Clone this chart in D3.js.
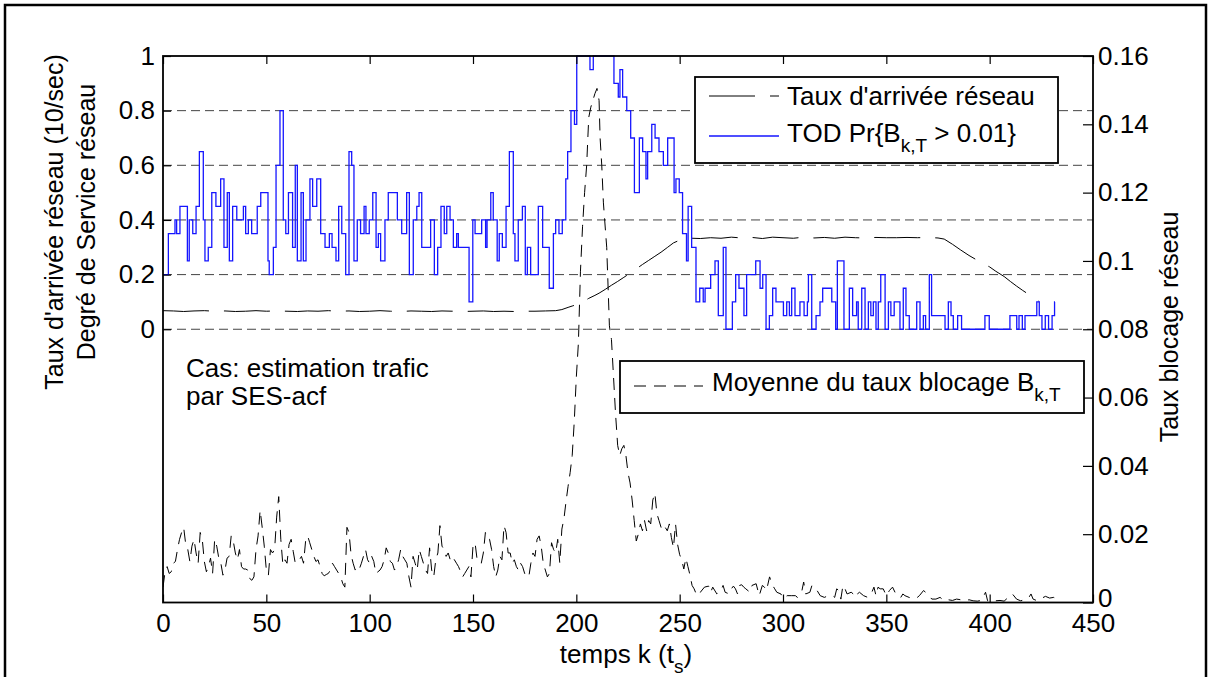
<!DOCTYPE html>
<html>
<head>
<meta charset="utf-8">
<title>Taux de blocage - SES-acf</title>
<script src="https://cdn.jsdelivr.net/npm/d3@7/dist/d3.min.js"></script>
<style>
body { margin: 0; background: #fff; }
text { font-family: "Liberation Sans", Arial, sans-serif; fill: #000; }
</style>
</head>
<body>
<svg width="1208" height="677"></svg>
<script>

// ---- data ----
var xTicks = [0, 50, 100, 150, 200, 250, 300, 350, 400, 450];
var leftTicks = [0, 0.2, 0.4, 0.6, 0.8, 1];
var rightTicks = [0, 0.02, 0.04, 0.06, 0.08, 0.1, 0.12, 0.14, 0.16];

// TOD Pr{B_k,T > 0.01}: stairs, [k where the step starts, value] (left axis)
var todSteps = [[0,0.2],[2.6,0.35],[5.8,0.4],[6.6,0.35],[8.2,0.45],[11.8,0.25],[12.7,0.4],[14.4,0.35],[16,0.45],[17.6,0.65],
  [19.5,0.4],[20.3,0.25],[21.9,0.3],[23.6,0.5],[25.6,0.45],[27.9,0.55],[29.5,0.3],[31.1,0.5],[32.1,0.25],[33.7,0.45],
  [35.7,0.4],[38.9,0.45],[40,0.35],[41.3,0.4],[42.9,0.35],[45.6,0.45],[47.3,0.5],[50.8,0.25],[51.4,0.2],[53.4,0.3],
  [54.7,0.6],[56.6,0.8],[58.2,0.4],[59.4,0.35],[60.7,0.5],[62.7,0.3],[64,0.6],[65,0.25],[66.8,0.5],[67.9,0.25],
  [69.2,0.4],[71.1,0.55],[72.4,0.45],[74.4,0.55],[76.3,0.35],[78.4,0.3],[80.5,0.35],[81.8,0.3],[83.7,0.25],[85,0.45],
  [86.5,0.35],[88.4,0.2],[90,0.65],[91.3,0.6],[92.4,0.25],[94,0.4],[95.6,0.35],[97.3,0.45],[98.2,0.35],[99.8,0.4],
  [101.5,0.5],[103.1,0.3],[104.2,0.35],[105.3,0.25],[107.4,0.4],[109,0.5],[113.4,0.4],[115.5,0.35],[117.9,0.5],[119.2,0.2],
  [121.1,0.4],[122.8,0.45],[123.9,0.5],[125.2,0.3],[129.5,0.4],[131.3,0.2],[132.9,0.3],[134.5,0.45],[136.1,0.35],[137.3,0.45],
  [138.9,0.4],[140.5,0.3],[142.1,0.35],[142.9,0.3],[148.1,0.1],[149.9,0.4],[151,0.35],[154.2,0.4],[156.1,0.3],[156.8,0.4],
  [158.6,0.5],[159.8,0.4],[161.7,0.25],[162.7,0.35],[164.2,0.3],[166,0.45],[167.6,0.65],[169.5,0.35],[170.3,0.25],[171.9,0.4],
  [173.9,0.45],[175.3,0.2],[176.3,0.3],[177.9,0.2],[181.6,0.45],[183.7,0.3],[186.9,0.15],[188.9,0.35],[190,0.4],[191.6,0.35],
  [193.2,0.4],[194.9,0.55],[195.8,0.65],[197.4,0.8],[199.1,0.75],[200.2,1],[206.6,0.95],[208.2,1],[218.2,0.9],[220.3,0.85],
  [221.1,0.95],[222.4,0.85],[224.4,0.8],[226.3,0.7],[228.1,0.5],[230.5,0.7],[232.1,0.65],[233.7,0.55],[234.5,0.65],[236.5,0.75],
  [238.1,0.7],[240,0.65],[242.1,0.6],[244.2,0.7],[247.3,0.5],[248.2,0.55],[249.8,0.5],[251.4,0.35],[253.3,0.25],[254.1,0.45],
  [255.8,0.3],[257.9,0.1],[259.7,0.15],[261.4,0.1],[262.3,0.15],[265,0.2],[267.1,0.25],[268.7,0.05],[271.1,0.3],[272.4,0],
  [275.5,0.1],[277.1,0.2],[278.7,0.15],[281.1,0.05],[282.4,0.2],[286.8,0.25],[288.9,0.15],[290.2,0.2],[291.8,0],[293.4,0.05],
  [295,0.15],[296.6,0.1],[300.2,0.05],[301.8,0.1],[303.1,0.05],[304.2,0.15],[305.8,0.05],[308.2,0.1],[310.2,0.05],[311.8,0.1],
  [312.3,0.2],[313.9,0],[316,0.05],[317.9,0.1],[319.2,0.15],[323.6,0.1],[325.5,0],[326.3,0.25],[329.5,0],[332.1,0.15],
  [333.7,0.05],[335.6,0.1],[336.4,0],[338.1,0.15],[339.7,0],[341.3,0.1],[342.5,0.05],[343.7,0.1],[345,0],[346.1,0.1],
  [347.3,0.2],[349.4,0],[351,0.1],[352.2,0.05],[353.8,0.1],[356.6,0],[358.2,0.15],[359.5,0.05],[361.1,0],[364.7,0.1],
  [366.3,0],[367.9,0.05],[369,0],[370.8,0.2],[371.9,0.05],[378.4,0],[380,0.1],[381.3,0.05],[382.4,0],[384.5,0.05],
  [386.4,0],[397.7,0.05],[399.8,0],[409.8,0.05],[413.1,0],[414.2,0.05],[415.8,0],[417.1,0.05],[422.8,0.1],[424,0.05],
  [425.3,0],[426.9,0.05],[428.5,0],[430.2,0.05],[431.4,0.1],[431.6,0.1]];

// Taux d'arrivee reseau (left axis)
var arrivee = [[0,0.068],[5,0.067],[10,0.065],[15,0.067],[20,0.068],[25,0.066],[30,0.067],[35,0.065],[40,0.066],[45,0.068],
  [50,0.066],[55,0.067],[60,0.066],[65,0.065],[70,0.067],[75,0.066],[80,0.068],[85,0.066],[90,0.067],[95,0.065],
  [100,0.066],[105,0.068],[110,0.066],[115,0.065],[120,0.067],[125,0.066],[130,0.065],[135,0.067],[140,0.066],[145,0.065],
  [150,0.066],[155,0.067],[160,0.065],[165,0.066],[170,0.065],[175,0.066],[180,0.066],[185,0.067],[190,0.068],[193,0.072],
  [196,0.08],[198,0.085],[200,0.09],[203,0.1],[206,0.113],[209,0.124],[211,0.132],[214,0.146],[217,0.161],[220,0.175],
  [223,0.19],[226,0.205],[229,0.221],[232,0.237],[235,0.252],[238,0.267],[241,0.282],[244,0.299],[247,0.316],[250,0.326],
  [253,0.332],[256,0.333],[260,0.332],[265,0.335],[270,0.333],[275,0.337],[280,0.334],[285,0.336],[290,0.332],[295,0.337],
  [300,0.335],[305,0.333],[310,0.337],[315,0.334],[320,0.336],[325,0.333],[330,0.337],[335,0.335],[340,0.334],[345,0.336],
  [350,0.335],[355,0.335],[360,0.336],[365,0.335],[370,0.336],[375,0.334],[378,0.33],[382,0.311],[386,0.29],[390,0.27],
  [395,0.248],[400,0.228],[403,0.212],[407,0.193],[410,0.175],[413,0.158],[416,0.142],[420,0.122],[424,0.101]];

// Moyenne du taux blocage B_k,T (right axis)
var blocage = [[0,0.0045],[1,0.009],[2,0.0105],[3,0.0085],[4,0.009],[5,0.0115],[6,0.012],[7,0.0155],[8,0.0185],[9,0.0205],
  [10,0.022],[11,0.017],[12,0.0155],[13,0.012],[14,0.0165],[15,0.0185],[16,0.0145],[17,0.0115],[18,0.0205],[19,0.0185],
  [20,0.012],[21,0.009],[22,0.0105],[23,0.013],[24,0.0085],[25,0.0185],[26,0.0165],[27,0.013],[28,0.0115],[29,0.008],
  [30,0.0095],[31,0.013],[32,0.0135],[33,0.0195],[34,0.018],[35,0.0145],[36,0.0125],[37,0.0155],[38,0.0105],[39,0.0098],
  [40,0.0098],[41,0.0095],[42,0.007],[43,0.0065],[44,0.0075],[45,0.0155],[46,0.0195],[47,0.027],[48,0.022],[49,0.0165],
  [50,0.0095],[51,0.008],[52,0.0155],[53,0.0145],[54,0.0155],[55,0.025],[56,0.031],[57,0.0185],[58,0.011],[59,0.0125],
  [60,0.0115],[61,0.017],[62,0.0185],[63,0.015],[64,0.0115],[65,0.012],[66,0.0125],[67,0.0135],[68,0.0115],[69,0.018],
  [70,0.0195],[71,0.0175],[72,0.0155],[73,0.0135],[74,0.012],[75,0.0125],[76,0.0105],[77,0.0085],[78,0.0078],[79,0.0082],
  [80,0.0085],[81,0.0095],[82,0.0115],[83,0.0105],[84,0.0095],[85,0.0085],[86,0.0075],[87,0.0055],[88,0.0045],[89,0.022],
  [90,0.0205],[91,0.014],[92,0.0115],[93,0.0095],[94,0.0105],[95,0.0098],[96,0.0115],[97,0.0135],[98,0.0155],[99,0.0125],
  [100,0.0115],[101,0.0135],[102,0.012],[103,0.0085],[104,0.009],[105,0.0095],[106,0.0105],[107,0.0125],[108,0.016],[109,0.0145],
  [110,0.012],[111,0.0115],[112,0.0095],[113,0.0105],[114,0.0125],[115,0.0155],[116,0.0135],[117,0.0125],[118,0.0115],[119,0.0075],
  [120,0.0045],[121,0.0135],[122,0.0115],[123,0.0095],[124,0.0155],[125,0.0135],[126,0.0115],[127,0.0095],[128,0.0085],[129,0.016],
  [130,0.0095],[131,0.0075],[132,0.0125],[133,0.0145],[134,0.0225],[135,0.0165],[136,0.0155],[137,0.0135],[138,0.0145],[139,0.0125],
  [140,0.0135],[141,0.0125],[142,0.0115],[143,0.0105],[144,0.009],[145,0.0075],[146,0.0085],[147,0.0095],[148,0.0105],[149,0.0075],
  [150,0.0165],[151,0.0175],[152,0.0125],[153,0.0115],[154,0.0115],[155,0.0145],[156,0.0205],[157,0.0185],[158,0.0185],[159,0.0155],
  [160,0.0105],[161,0.0075],[162,0.0095],[163,0.0135],[164,0.0125],[165,0.0225],[166,0.0205],[167,0.0145],[168,0.0145],[169,0.0115],
  [170,0.0125],[171,0.0105],[172,0.0095],[173,0.0115],[174,0.0105],[175,0.0085],[176,0.0075],[177,0.0075],[178,0.0115],[179,0.0145],
  [180,0.0135],[181,0.0185],[182,0.0195],[183,0.0165],[184,0.0115],[185,0.0095],[186,0.0075],[187,0.0085],[188,0.0175],[189,0.0155],
  [190,0.0145],[191,0.0185],[192,0.0115],[193,0.0215],[194,0.0245],[195,0.0295],[196,0.034],[197,0.038],[198,0.043],[199,0.053],
  [200,0.066],[201,0.076],[202,0.097],[203,0.11],[204,0.12],[205,0.128],[206,0.142],[207,0.145],[208,0.147],[209,0.149],
  [210,0.1505],[211,0.147],[211.5,0.136],[212.3,0.128],[213.1,0.117],[214.7,0.104],[215.5,0.09],[216,0.081],[217,0.077],[218,0.066],
  [219,0.055],[220,0.046],[221,0.043],[222,0.045],[223,0.046],[224,0.043],[225,0.038],[226,0.035],[227,0.03],[228,0.024],
  [229,0.018],[230,0.02],[231,0.023],[232,0.021],[233,0.024],[234,0.021],[235,0.024],[236,0.023],[237,0.03],[238,0.032],
  [239,0.026],[240,0.024],[241,0.022],[242,0.021],[243,0.022],[244,0.021],[245,0.023],[246,0.019],[247,0.016],[248,0.023],
  [249,0.017],[250,0.014],[251,0.0125],[252,0.0098],[253,0.013],[254,0.0105],[255,0.008],[256,0.005],[257,0.004],[258,0.0025],
  [259,0.0035],[260,0.003],[262,0.0045],[264,0.0048],[265,0.003],[266,0.0045],[268,0.0025],[270,0.0035],[271,0.005],[272,0.003],
  [274,0.0025],[275,0.004],[276,0.0048],[277,0.004],[278,0.0025],[279,0.005],[280,0.0052],[281,0.0045],[282,0.004],[284,0.003],
  [285,0.005],[287,0.0055],[288.5,0.002],[290,0.005],[291,0.0045],[292,0.0035],[293.5,0.0075],[295,0.005],[296,0.004],[297,0.003],
  [299,0.0025],[300,0.0012],[302,0.002],[304,0.002],[306,0.002],[307,0.0015],[309,0.003],[310,0.006],[311,0.0025],[313,0.003],
  [314,0.005],[316,0.004],[318,0.002],[320,0.0015],[322,0.002],[324,0.002],[325,0.0015],[326,0.004],[327,0.0035],[328,0.001],
  [329,0.005],[330,0.004],[331,0.0025],[333,0.003],[334,0.0025],[335,0.0035],[336,0.0025],[337,0.003],[339,0.002],[341,0.0015],
  [343,0.003],[344,0.0045],[345,0.002],[346,0.0045],[347,0.004],[348.5,0.004],[350,0.002],[351.5,0.0035],[353,0.0045],[355,0.002],
  [357,0.0015],[358,0.0025],[359,0.002],[361,0.0015],[363,0.001],[365,0.0015],[366,0.002],[368,0.0035],[370,0.0025],[372,0.001],
  [374,0.001],[376,0.0015],[378,0.0005],[380,0.0008],[382,0.0006],[384,0.001],[386,0.0008],[388,0.0005],[390,0.0008],[392,0.0005],
  [394,0.0004],[396,0.0006],[398,0.003],[399,0.0005],[401,0.0008],[403,0.0005],[405,0.0006],[407,0.0004],[409,0.0015],[411,0.0025],
  [413,0.001],[415,0.0005],[417,0.0008],[419,0.0015],[420,0.0025],[421,0.001],[423,0.0005],[425,0.0012],[427,0.0018],[429,0.0013],
  [431,0.0015],[432,0.0012]];

// ---- layout ----
var svg = d3.select("svg"),
    plot = {left: 163, right: 1093, top: 56, bottom: 602.5},
    fs = 26, fsSub = 19;

var x = d3.scaleLinear().domain([0, 450]).range([plot.left, plot.right]),
    yL = d3.scaleLinear().domain([-1, 1]).range([plot.bottom, plot.top]),
    yR = d3.scaleLinear().domain([0, 0.16]).range([plot.bottom, plot.top]);

// figure frame
svg.append("rect")
   .attr("x", 5).attr("y", 5).attr("width", 1201).attr("height", 676)
   .attr("fill", "none").attr("stroke", "#000").attr("stroke-width", 2.5);

svg.append("clipPath").attr("id", "clip")
   .append("rect")
   .attr("x", plot.left).attr("y", plot.top - 1)
   .attr("width", plot.right - plot.left).attr("height", plot.bottom - plot.top + 1);

// grid on the left axis
svg.append("g").selectAll("line")
   .data(leftTicks.filter(function(d){ return d < 1; }))
   .enter().append("line")
   .attr("x1", plot.left).attr("x2", plot.right)
   .attr("y1", function(d){ return yL(d); }).attr("y2", function(d){ return yL(d); })
   .attr("stroke", "#444").attr("stroke-width", 1).attr("stroke-dasharray", "9,5");

var lines = svg.append("g").attr("clip-path", "url(#clip)");

// mean blocking rate, right axis, dashed
lines.append("path")
   .datum(blocage)
   .attr("fill", "none").attr("stroke", "#000").attr("stroke-width", 1)
   .attr("stroke-dasharray", "12,8")
   .attr("d", d3.line().x(function(d){ return x(d[0]); }).y(function(d){ return yR(d[1]); }));

// arrival rate, left axis
lines.append("path")
   .datum(arrivee)
   .attr("fill", "none").attr("stroke", "#000").attr("stroke-width", 1)
   .attr("stroke-dasharray", "46,15")
   .attr("d", d3.line().x(function(d){ return x(d[0]); }).y(function(d){ return yL(d[1]); }));

// TOD, stairs
lines.append("path")
   .datum(todSteps)
   .attr("fill", "none").attr("stroke", "#1515ff").attr("stroke-width", 1.3)
   .attr("d", d3.line().curve(d3.curveStepAfter)
      .x(function(d){ return x(d[0]); }).y(function(d){ return yL(d[1]); }));

// ---- axes ----
function styleAxis(g) {
  g.select(".domain").remove();
  g.attr("font-size", fs).attr("font-family", null);
  g.selectAll(".tick line").attr("stroke", "#000").attr("stroke-width", 1.2);
}

svg.append("g")
   .attr("transform", "translate(0," + plot.bottom + ")")
   .call(d3.axisBottom(x).tickValues(xTicks).tickSize(-8).tickPadding(11).tickFormat(d3.format("d")))
   .call(styleAxis);

svg.append("g")
   .attr("transform", "translate(0," + plot.top + ")")
   .call(d3.axisTop(x).tickValues(xTicks).tickSize(-8).tickFormat(""))
   .call(styleAxis);

svg.append("g")
   .attr("transform", "translate(" + plot.left + ",0)")
   .call(d3.axisLeft(yL).tickValues(leftTicks).tickSize(-8).tickPadding(8).tickFormat(function(d){ return String(d); }))
   .call(styleAxis);

var rAxis = svg.append("g")
   .attr("transform", "translate(" + plot.right + ",0)")
   .call(d3.axisRight(yR).tickValues(rightTicks).tickSize(-10).tickPadding(5).tickFormat(function(d){ return String(d); }))
   .call(styleAxis);
// the lowest right label sits just above the 450 label, as in the figure
rAxis.selectAll(".tick text").filter(function(d){ return d === 0; }).attr("y", -4);

svg.append("rect")
   .attr("x", plot.left).attr("y", plot.top)
   .attr("width", plot.right - plot.left).attr("height", plot.bottom - plot.top)
   .attr("fill", "none").attr("stroke", "#000").attr("stroke-width", 1.8);

// text with a subscript part: parts = [[string, isSub], ...]
function richText(parent, px, py, parts, anchor, transform, size) {
  var base = size || fs;
  var t = parent.append("text")
     .attr("x", px).attr("y", py)
     .attr("font-size", base)
     .attr("text-anchor", anchor || "start")
     .style("white-space", "pre");
  if (transform) t.attr("transform", transform);
  var shift = 0;
  parts.forEach(function(p) {
    var dy = (p[1] ? 10 : 0) - shift;
    shift = p[1] ? 10 : 0;
    t.append("tspan").attr("dy", dy).attr("font-size", p[1] ? fsSub : base).text(p[0]);
  });
  return t;
}

// ---- legends ----
var leg1 = svg.append("g");
leg1.append("rect").attr("x", 695).attr("y", 77).attr("width", 363).attr("height", 86)
    .attr("fill", "#fff").attr("stroke", "#000").attr("stroke-width", 1.8);
leg1.append("line").attr("x1", 709).attr("x2", 779).attr("y1", 96).attr("y2", 96)
    .attr("stroke", "#000").attr("stroke-width", 1).attr("stroke-dasharray", "46,15");
leg1.append("line").attr("x1", 709).attr("x2", 779).attr("y1", 136).attr("y2", 136)
    .attr("stroke", "#1515ff").attr("stroke-width", 1.3);
richText(leg1, 787, 105, [["Taux d'arrivée réseau", 0]]);
richText(leg1, 787, 142, [["TOD Pr{B", 0], ["k,T", 1], [" > 0.01}", 0]]);

var leg2 = svg.append("g");
leg2.append("rect").attr("x", 620).attr("y", 361).attr("width", 464).attr("height", 52)
    .attr("fill", "#fff").attr("stroke", "#000").attr("stroke-width", 1.8);
leg2.append("line").attr("x1", 634).attr("x2", 703).attr("y1", 386).attr("y2", 386)
    .attr("stroke", "#000").attr("stroke-width", 1).attr("stroke-dasharray", "12,8");
richText(leg2, 712, 391, [["Moyenne du taux blocage B", 0], ["k,T", 1]]);

// ---- labels ----
richText(svg, 186, 377, [["Cas: estimation trafic", 0]]);
richText(svg, 186, 405, [["par SES-acf", 0]]);

richText(svg, 626, 663, [["temps k (t", 0], ["s", 1], [")", 0]], "middle");

richText(svg, 0, 0, [["Taux d'arrivée réseau (10/sec)", 0]], "middle", "translate(63,222) rotate(-90)", 25);
richText(svg, 0, 0, [["Degré de Service réseau", 0]], "middle", "translate(95,222) rotate(-90)", 25);
richText(svg, 0, 0, [["Taux blocage réseau", 0]], "middle", "translate(1178,327) rotate(-90)", 25);

</script>
</body>
</html>
